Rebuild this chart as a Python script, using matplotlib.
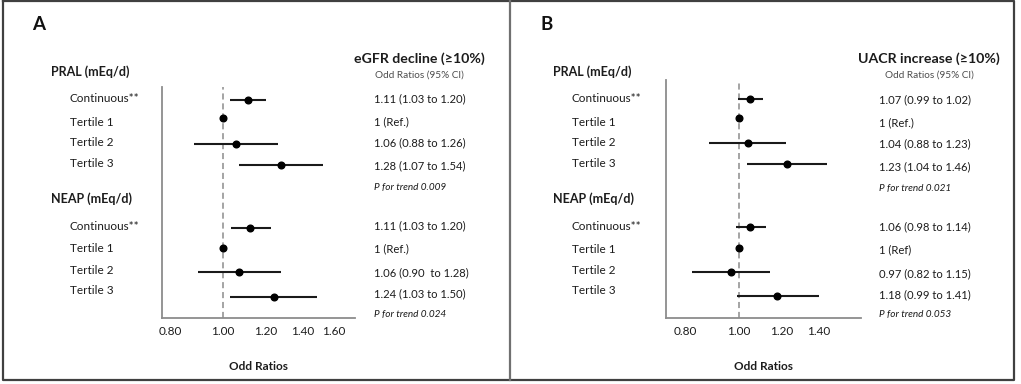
import matplotlib
matplotlib.use("Agg")
import matplotlib.pyplot as plt
import numpy as np

plt.rcParams['font.family'] = ['Lato', 'DejaVu Sans']

# ---------------- data ----------------
groups = ["PRAL (mEq/d)", "NEAP (mEq/d)"]
row_labels = ["Continuous**", "Tertile 1", "Tertile 2", "Tertile 3"]

# Panel A: eGFR decline (values as drawn)
a_or = [1.11, 1.00, 1.055, 1.28, 1.12, 1.00, 1.07, 1.24]
a_lo = [1.03, 1.00, 0.885, 1.07, 1.035, 1.00, 0.90, 1.03]
a_hi = [1.20, 1.00, 1.26, 1.53, 1.225, 1.00, 1.28, 1.49]
a_text = ["1.11 (1.03 to 1.20)", "1 (Ref.)", "1.06 (0.88 to 1.26)", "1.28 (1.07 to 1.54)",
          "1.11 (1.03 to 1.20)", "1 (Ref.)", "1.06 (0.90  to 1.28)", "1.24 (1.03 to 1.50)"]
a_trend = ["P for trend 0.009", "P for trend 0.024"]
a_ticks = [0.80, 1.00, 1.20, 1.40, 1.60]

# Panel B: UACR increase (values as drawn)
b_or = [1.05, 1.00, 1.04, 1.227, 1.05, 1.00, 0.97, 1.177]
b_lo = [0.998, 1.00, 0.884, 1.034, 0.99, 1.00, 0.824, 0.995]
b_hi = [1.106, 1.00, 1.22, 1.45, 1.12, 1.00, 1.14, 1.40]
b_text = ["1.07 (0.99 to 1.02)", "1 (Ref.)", "1.04 (0.88 to 1.23)", "1.23 (1.04 to 1.46)",
          "1.06 (0.98 to 1.14)", "1 (Ref)", "0.97 (0.82 to 1.15)", "1.18 (0.99 to 1.41)"]
b_trend = ["P for trend 0.021", "P for trend 0.053"]
b_ticks = [0.80, 1.00, 1.20, 1.40]

W, H = 1021, 384
fig = plt.figure(figsize=(W / 100, H / 100), dpi=100)

def fx(x):
    return x / W

def fy(y):
    return 1 - y / H

TXT = '#1c1c1c'

# panel borders
border = plt.Line2D([fx(3), fx(1014), fx(1014), fx(3), fx(3)],
                    [fy(1), fy(1), fy(380), fy(380), fy(1)],
                    transform=fig.transFigure, color='#404040', lw=1.6)
fig.add_artist(border)
fig.add_artist(plt.Line2D([fx(510), fx(510)], [fy(1), fy(380)],
                          transform=fig.transFigure, color='#707070', lw=1.6))

def panel(off, letter, title, ax_box, xlim, ticks, ors, los, his, texts, trends,
          point_y, label_y, text_y, trend_y, hdr_x, lab_x, txt_x, title_cx):
    l, r, t, b = ax_box
    ax = fig.add_axes([fx(l), fy(b), fx(r - l), (b - t) / H])
    ax.set_xscale('log')
    ax.set_xlim(*xlim)
    ax.set_ylim(b, t)
    for s in ['top', 'right']:
        ax.spines[s].set_visible(False)
    for s in ['left', 'bottom']:
        ax.spines[s].set_color('#8c8c8c')
        ax.spines[s].set_linewidth(1.3)
    ax.set_yticks([])
    ax.set_xticks(ticks)
    ax.set_xticklabels([f"{v:.2f}" for v in ticks], fontsize=8.5, color=TXT)
    ax.xaxis.set_minor_locator(matplotlib.ticker.NullLocator())
    ax.tick_params(axis='x', length=0, pad=6)
    ax.axvline(1.0, color='#8c8c8c', lw=1.1, ls=(0, (4, 2.5)))
    for o, lo, hi, y in zip(ors, los, his, point_y):
        ax.plot([lo, hi], [y, y], color='#1a1a1a', lw=1.5, solid_capstyle='butt')
        ax.plot([o], [y], 'o', color='black', ms=4.8)
    ax.set_xlabel("Odd Ratios", fontsize=8.5, fontweight='bold', color=TXT, labelpad=17)

    fig.text(fx(off), fy(24), letter, fontsize=13.5, fontweight='bold', color='#111111',
             ha='left', va='center')
    fig.text(fx(title_cx), fy(59), title, fontsize=10.2, fontweight='bold', color=TXT,
             ha='center', va='center')
    fig.text(fx(title_cx), fy(75.5), "Odd Ratios (95% CI)", fontsize=7.2, color='#4d4d4d',
             ha='center', va='center')
    for g, gy in zip(groups, [72, 199]):
        fig.text(fx(hdr_x), fy(gy), g, fontsize=9, fontweight='bold', color=TXT,
                 ha='left', va='center')
    for i, y in enumerate(label_y):
        fig.text(fx(lab_x), fy(y), row_labels[i % 4], fontsize=8.5, color=TXT,
                 ha='left', va='center')
    for s, y in zip(texts, text_y):
        fig.text(fx(txt_x), fy(y), s, fontsize=8.1, color=TXT, ha='left', va='center')
    for s, y in zip(trends, trend_y):
        fig.text(fx(txt_x), fy(y), s, fontsize=7.2, color=TXT, style='italic',
                 ha='left', va='center')

panel(off=32, letter="A", title="eGFR decline (\u226510%)",
      ax_box=(162, 355, 87, 318), xlim=(0.772, 1.75), ticks=a_ticks,
      ors=a_or, los=a_lo, his=a_hi, texts=a_text, trends=a_trend,
      point_y=[100, 118, 144, 164.7, 228, 247.7, 272, 296.7],
      label_y=[98.7, 122, 142.7, 163.7, 226, 249, 270, 290],
      text_y=[99, 122, 143, 166, 226, 249, 273, 294],
      trend_y=[188, 314], hdr_x=51, lab_x=70, txt_x=374, title_cx=419)

panel(off=541, letter="B", title="UACR increase (\u226510%)",
      ax_box=(666, 861, 80, 318), xlim=(0.738, 1.67), ticks=b_ticks,
      ors=b_or, los=b_lo, his=b_hi, texts=b_text, trends=b_trend,
      point_y=[99, 117.7, 143, 164.3, 227, 248.3, 271.7, 295.7],
      label_y=[99, 122.7, 143, 163, 226, 249.7, 270, 290.7],
      text_y=[100, 122.7, 144, 166.7, 227, 250, 274, 295],
      trend_y=[189, 315], hdr_x=553, lab_x=572, txt_x=879, title_cx=929)

fig.savefig("out.png", dpi=100, facecolor='white')
